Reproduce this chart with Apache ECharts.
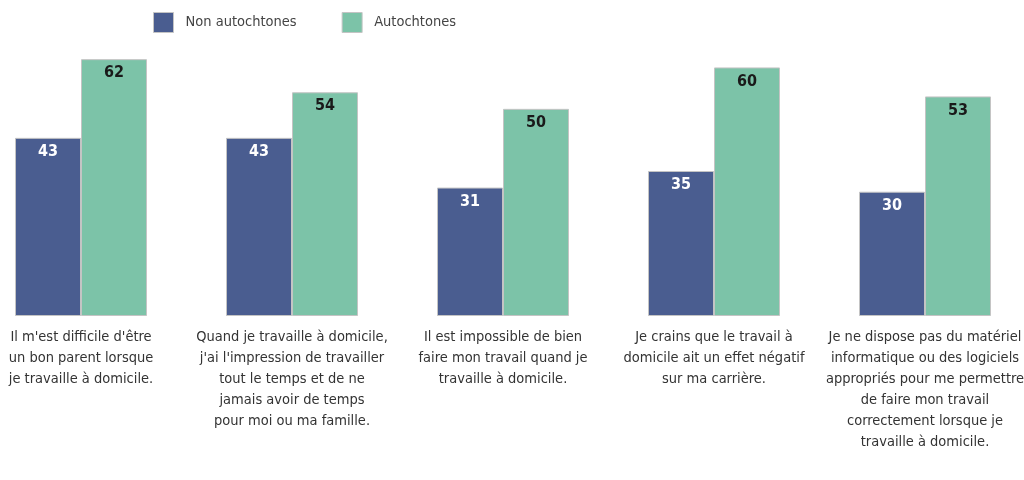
<!DOCTYPE html>
<html><head><meta charset="utf-8">
<script src="https://cdn.jsdelivr.net/npm/echarts@6/dist/echarts.min.js"></script>
<style>html,body{margin:0;padding:0;background:#fff}#c{width:1024px;height:480px}</style>
</head><body><div id="c"></div>
<script>
const categories = [
  "Il m'est difficile d'être\nun bon parent lorsque\nje travaille à domicile.",
  "Quand je travaille à domicile,\nj'ai l'impression de travailler\ntout le temps et de ne\njamais avoir de temps\npour moi ou ma famille.",
  "Il est impossible de bien\nfaire mon travail quand je\ntravaille à domicile.",
  "Je crains que le travail à\ndomicile ait un effet négatif\nsur ma carrière.",
  "Je ne dispose pas du matériel\ninformatique ou des logiciels\nappropriés pour me permettre\nde faire mon travail\ncorrectement lorsque je\ntravaille à domicile."
];
const seriesNames = ["Non autochtones", "Autochtones"];
const nonAutochtones = [43, 43, 31, 35, 30];
const autochtones = [62, 54, 50, 60, 53];

const FONT = "'Liberation Sans Narrow', 'DejaVu Sans Condensed', sans-serif";
const chart = echarts.init(document.getElementById('c'), null, {renderer: 'canvas'});
chart.setOption({
  animation: false,
  backgroundColor: '#fff',
  legend: {
    top: 7, left: 148, itemWidth: 20, itemHeight: 20, itemGap: 45,
    icon: 'rect',
    itemStyle: {borderColor: '#c4c4c4', borderWidth: 1},
    textStyle: {fontFamily: FONT, fontSize: 14.5, color: '#444', padding: [0, 0, 0, 7]},
    data: seriesNames
  },
  grid: {left: -24.5, width: 1055, top: 26, bottom: 164, containLabel: false, outerBoundsMode: 'none'},
  xAxis: {
    type: 'category', data: categories,
    axisLine: {show: false}, axisTick: {show: false},
    axisLabel: {interval: 0, margin: 11, fontFamily: FONT, fontSize: 14.5, lineHeight: 21, color: '#333', align: 'center', hideOverlap: false}
  },
  yAxis: {type: 'value', min: 0, max: 70, show: false, splitLine: {show: false}},
  series: [
    {
      name: seriesNames[0], type: 'bar', data: nonAutochtones, barWidth: 66, barGap: '0%',
      itemStyle: {color: '#4a5d90', borderColor: '#c4c4c4', borderWidth: 1},
      label: {show: true, position: 'insideTop', distance: 6, color: '#fff', fontWeight: 'bold', fontFamily: FONT, fontSize: 16}
    },
    {
      name: seriesNames[1], type: 'bar', data: autochtones, barWidth: 66, barGap: '0%',
      itemStyle: {color: '#7cc3a8', borderColor: '#c4c4c4', borderWidth: 1},
      label: {show: true, position: 'insideTop', distance: 6, color: '#1a1a1a', fontWeight: 'bold', fontFamily: FONT, fontSize: 16}
    }
  ]
});
</script></body></html>
